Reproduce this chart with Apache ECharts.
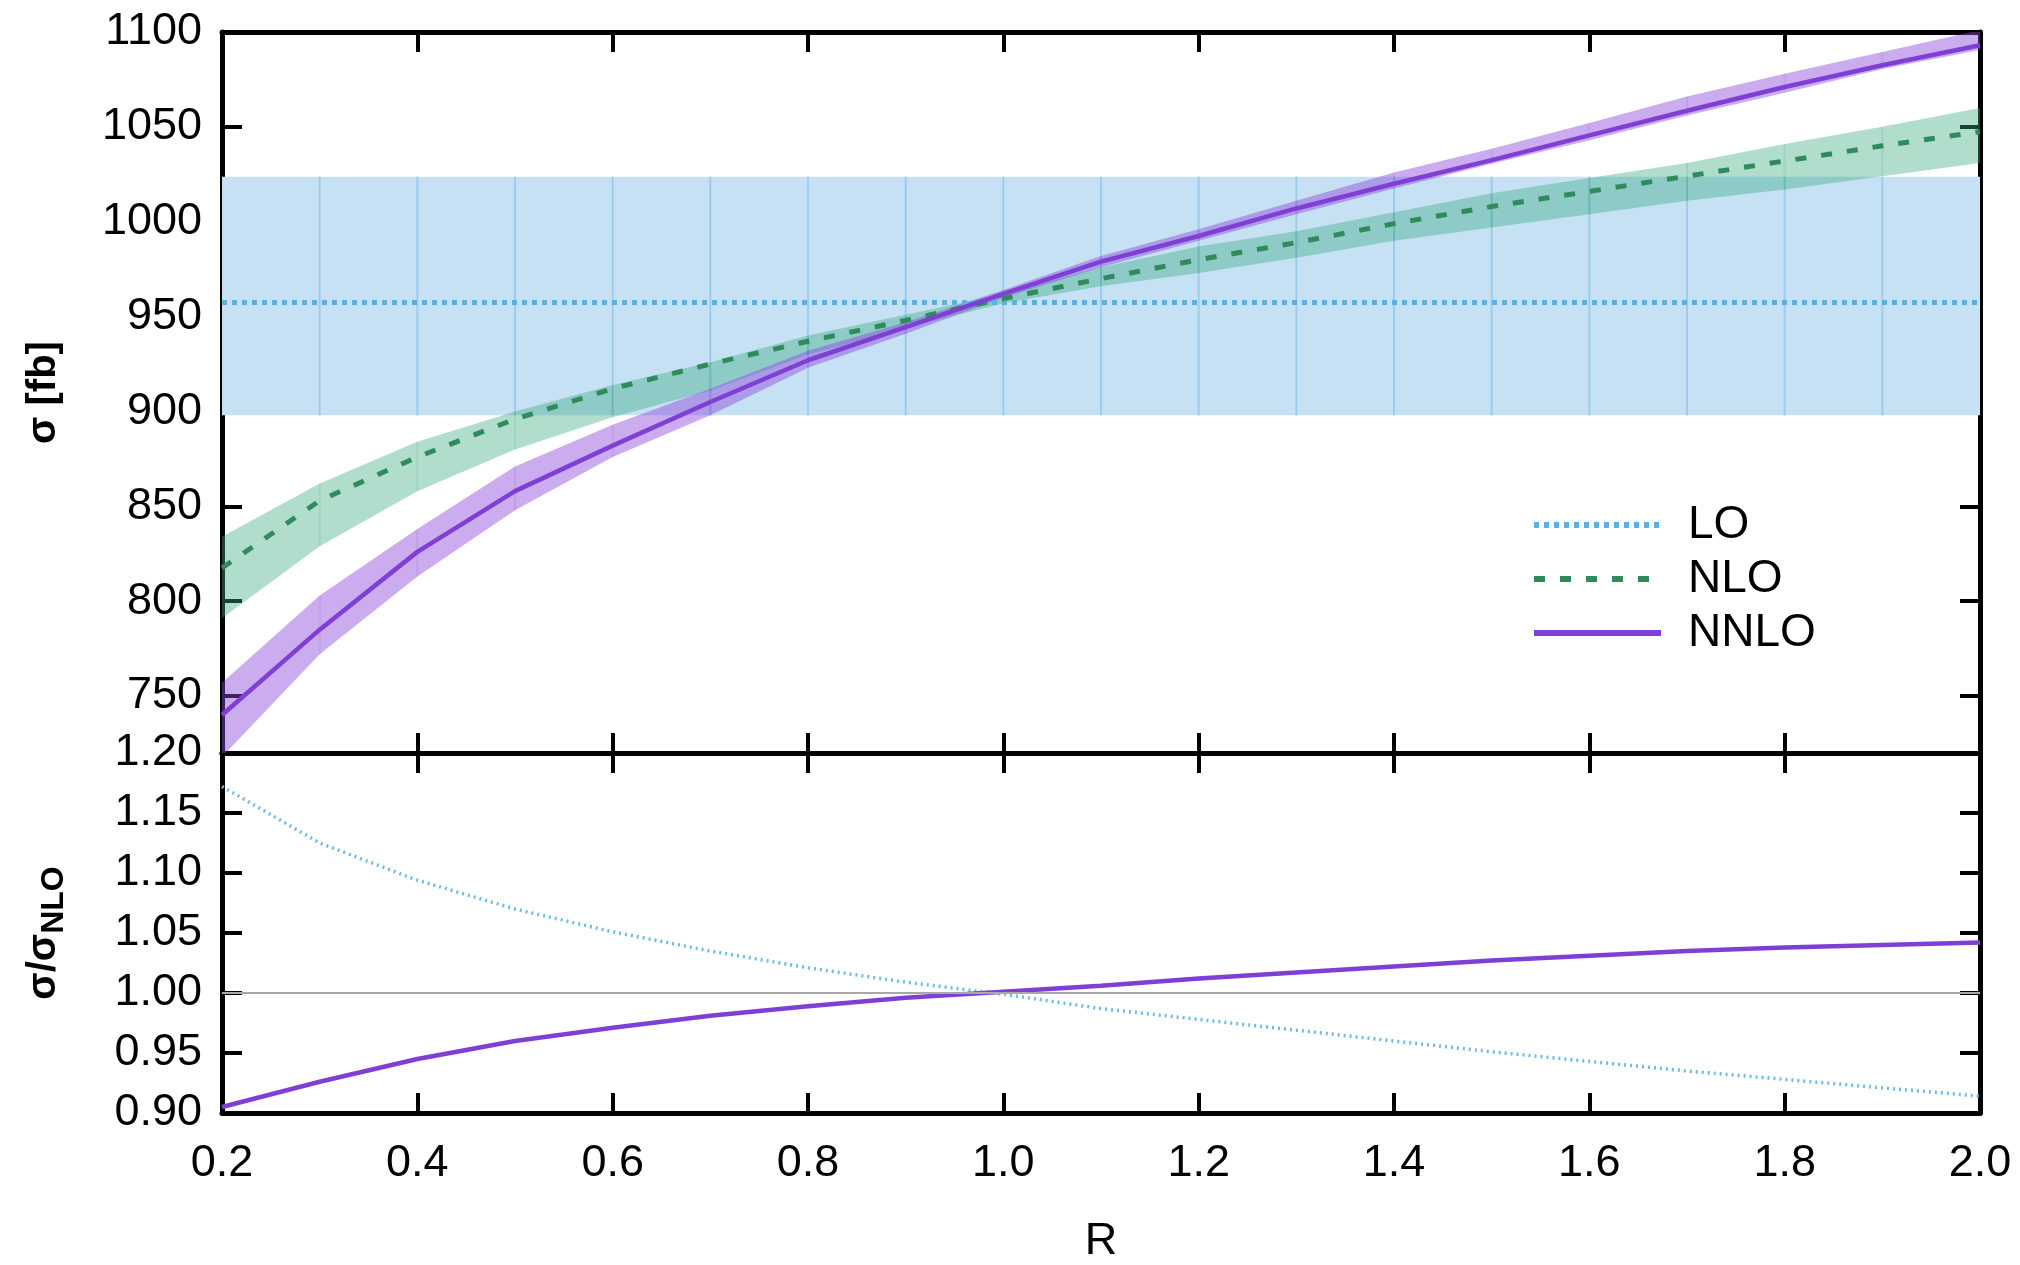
<!DOCTYPE html>
<html>
<head>
<meta charset="utf-8">
<title>sigma vs R</title>
<script src="https://cdn.jsdelivr.net/npm/echarts@6/dist/echarts.min.js"></script>
<style>
  html, body { margin: 0; padding: 0; background: #fff; }
  #chart { width: 2020px; height: 1265px; }
</style>
</head>
<body>
<div id="chart"></div>
<script>
  // jet radius R
  var rValues = [0.2, 0.3, 0.4, 0.5, 0.6, 0.7, 0.8, 0.9, 1.0, 1.1, 1.2, 1.3, 1.4, 1.5, 1.6, 1.7, 1.8, 1.9, 2.0];

  // sigma [fb], LO does not depend on R
  var loCentral = [957.5, 957.5, 957.5, 957.5, 957.5, 957.5, 957.5, 957.5, 957.5, 957.5, 957.5, 957.5, 957.5, 957.5, 957.5, 957.5, 957.5, 957.5, 957.5];
  var loLow = [898, 898, 898, 898, 898, 898, 898, 898, 898, 898, 898, 898, 898, 898, 898, 898, 898, 898, 898];
  var loHigh = [1023.7, 1023.7, 1023.7, 1023.7, 1023.7, 1023.7, 1023.7, 1023.7, 1023.7, 1023.7, 1023.7, 1023.7, 1023.7, 1023.7, 1023.7, 1023.7, 1023.7, 1023.7, 1023.7];

  var nloCentral = [817.5, 853, 876, 896, 912, 925, 937, 948, 959.5, 970, 980, 989, 999, 1008, 1016, 1024, 1032, 1040, 1047.5];
  var nloLow = [791, 829, 858, 880, 897, 911, 930, 944, 957, 966, 973, 981, 990, 997, 1004, 1011, 1017, 1024, 1031];
  var nloHigh = [834, 862, 884, 900, 914, 926, 940, 951, 962, 976, 987, 995, 1005, 1015, 1023, 1031, 1041, 1050, 1060];

  var nnloCentral = [740, 785, 826, 858, 882, 905, 927, 944.5, 962, 979, 992.5, 1007, 1020, 1032.5, 1045.5, 1058.5, 1071, 1082.5, 1093];
  var nnloLow = [718, 772, 813, 848, 876, 898, 923, 941, 960, 976, 990, 1004, 1017.5, 1030.5, 1043, 1056, 1068, 1080.5, 1090.5];
  var nnloHigh = [757, 803, 838, 871, 893, 912, 932, 947, 964, 982, 996, 1011, 1026, 1038.5, 1052, 1066, 1078, 1089.5, 1101];

  // sigma / sigma_NLO
  var loRatio = [1.172, 1.125, 1.094, 1.070, 1.051, 1.035, 1.021, 1.009, 0.999, 0.987, 0.978, 0.969, 0.960, 0.951, 0.943, 0.935, 0.928, 0.921, 0.914];
  var nnloRatio = [0.905, 0.926, 0.945, 0.960, 0.971, 0.981, 0.989, 0.996, 1.001, 1.006, 1.012, 1.017, 1.022, 1.027, 1.031, 1.035, 1.038, 1.040, 1.042];
  var ratioReference = 1.0;

  // tick labels
  var sigmaTicks = [750, 800, 850, 900, 950, 1000, 1050, 1100];
  var ratioTicks = [0.90, 0.95, 1.00, 1.05, 1.10, 1.15, 1.20];

  var FONT = '"Liberation Sans", Arial, Helvetica, sans-serif';

  function pairs(ys) {
    return rValues.map(function (r, i) { return [r, ys[i]]; });
  }

  // one quad per R step, like gnuplot filledcurves
  function segments(low, high) {
    var out = [];
    for (var i = 0; i < rValues.length - 1; i++) {
      out.push([rValues[i], low[i], high[i], rValues[i + 1], low[i + 1], high[i + 1]]);
    }
    return out;
  }

  function bandRenderer(fill, edge) {
    return function (params, api) {
      var x0 = api.value(0), x1 = api.value(3);
      var p = [
        api.coord([x0, api.value(1)]),
        api.coord([x1, api.value(4)]),
        api.coord([x1, api.value(5)]),
        api.coord([x0, api.value(2)])
      ];
      var children = [{ type: 'polygon', shape: { points: p }, style: { fill: fill } }];
      if (params.dataIndex > 0) {
        children.push({
          type: 'line',
          shape: { x1: p[0][0], y1: p[0][1], x2: p[3][0], y2: p[3][1] },
          style: { stroke: edge, lineWidth: 2 }
        });
      }
      return { type: 'group', children: children };
    };
  }

  function band(name, low, high, fill, edge) {
    return {
      name: name,
      type: 'custom',
      xAxisIndex: 0,
      yAxisIndex: 0,
      clip: true,
      silent: true,
      encode: { x: [0, 3], y: [1, 2, 4, 5] },
      renderItem: bandRenderer(fill, edge),
      data: segments(low, high)
    };
  }

  function line(name, grid, ys, color, width, type) {
    return {
      name: name,
      type: 'line',
      xAxisIndex: grid * 2,
      yAxisIndex: grid * 2,
      symbol: 'none',
      clip: true,
      lineStyle: { color: color, width: width, type: type },
      itemStyle: { color: color },
      data: pairs(ys)
    };
  }

  var frameLine = { show: true, onZero: false, lineStyle: { color: '#000', width: 5 } };
  var tickStyle = { color: '#000', width: 4 };

  function xAxis(grid, position, withLabels) {
    var ax = {
      type: 'value',
      gridIndex: grid,
      position: position,
      min: 0.2,
      max: 2.0,
      interval: 0.2,
      axisLine: frameLine,
      axisTick: { show: true, inside: true, length: 20, lineStyle: tickStyle },
      splitLine: { show: false },
      axisLabel: {
        show: withLabels,
        fontSize: 45,
        fontFamily: FONT,
        color: '#000',
        margin: 28,
        formatter: function (v) { return v.toFixed(1); }
      }
    };
    if (withLabels) {
      ax.name = 'R';
      ax.nameLocation = 'middle';
      ax.nameGap = 106;
      ax.nameTextStyle = { fontSize: 45, fontFamily: FONT, color: '#000' };
    }
    return ax;
  }

  function yAxis(grid, position, min, max, ticks, digits, withLabels) {
    return {
      type: 'value',
      gridIndex: grid,
      position: position,
      min: min,
      max: max,
      axisLine: frameLine,
      axisTick: { show: true, inside: true, length: 20, lineStyle: tickStyle, customValues: ticks },
      splitLine: { show: false },
      axisLabel: {
        show: withLabels,
        customValues: ticks,
        fontSize: 45,
        fontFamily: FONT,
        color: '#000',
        margin: 20,
        formatter: function (v) { return v.toFixed(digits); }
      }
    };
  }

  var sigmaAxis = yAxis(0, 'left', 720, 1100, sigmaTicks, 0, true);
  sigmaAxis.name = 'σ [fb]';
  sigmaAxis.nameLocation = 'middle';
  sigmaAxis.nameRotate = 90;
  sigmaAxis.nameGap = 158;
  sigmaAxis.nameTextStyle = { fontSize: 40, fontWeight: 'bold', fontFamily: FONT, color: '#000' };

  var ratioAxis = yAxis(1, 'left', 0.9, 1.2, ratioTicks, 2, true);
  ratioAxis.name = '{a|σ/σ}{b|NLO}';
  ratioAxis.nameLocation = 'middle';
  ratioAxis.nameRotate = 90;
  ratioAxis.nameGap = 152;
  ratioAxis.nameTextStyle = {
    fontFamily: FONT,
    color: '#000',
    rich: {
      a: { fontSize: 40, fontWeight: 'bold', fontFamily: FONT, color: '#000', verticalAlign: 'top' },
      b: { fontSize: 32, fontWeight: 'bold', fontFamily: FONT, color: '#000', padding: [14, 0, 0, 0] }
    }
  };

  var ratioLine = line('NNLO', 1, nnloRatio, '#7f3fd5', 4.5, 'solid');
  ratioLine.markLine = {
    silent: true,
    symbol: 'none',
    label: { show: false },
    lineStyle: { color: '#a8a8a8', width: 2, type: 'solid' },
    data: [{ yAxis: ratioReference }]
  };

  var option = {
    animation: false,
    backgroundColor: '#fff',
    grid: [
      { left: 222, right: 40, top: 32, height: 721 },
      { left: 222, right: 40, top: 753, height: 360 }
    ],
    xAxis: [
      xAxis(0, 'bottom', false),
      xAxis(0, 'top', false),
      xAxis(1, 'bottom', true),
      xAxis(1, 'top', false)
    ],
    yAxis: [
      sigmaAxis,
      yAxis(0, 'right', 720, 1100, sigmaTicks, 0, false),
      ratioAxis,
      yAxis(1, 'right', 0.9, 1.2, ratioTicks, 2, false)
    ],
    legend: {
      orient: 'vertical',
      left: 1526,
      top: 497,
      itemWidth: 127,
      itemHeight: 20,
      itemGap: 8,
      data: ['LO', 'NLO', 'NNLO'],
      itemStyle: { opacity: 0 },
      lineStyle: { width: 6 },
      textStyle: { fontSize: 46, fontFamily: FONT, color: '#000', padding: [0, 0, 0, 22] }
    },
    series: [
      band('LO band', loLow, loHigh, '#c6e1f4', '#9ccdee'),
      line('LO', 0, loCentral, '#56b1e6', 5, [5, 5]),
      band('NLO band', nloLow, nloHigh, 'rgba(60,170,130,0.4)', 'rgba(40,130,100,0.12)'),
      line('NLO', 0, nloCentral, '#2f8a5c', 5, [11, 15]),
      band('NNLO band', nnloLow, nnloHigh, 'rgba(140,70,220,0.45)', 'rgba(110,50,200,0.12)'),
      line('NNLO', 0, nnloCentral, '#7f3fd5', 4.5, 'solid'),
      line('LO', 1, loRatio, '#6cb9ea', 3.5, [2, 4]),
      ratioLine
    ]
  };

  var myChart = echarts.init(document.getElementById('chart'));
  myChart.setOption(option);
</script>
</body>
</html>
